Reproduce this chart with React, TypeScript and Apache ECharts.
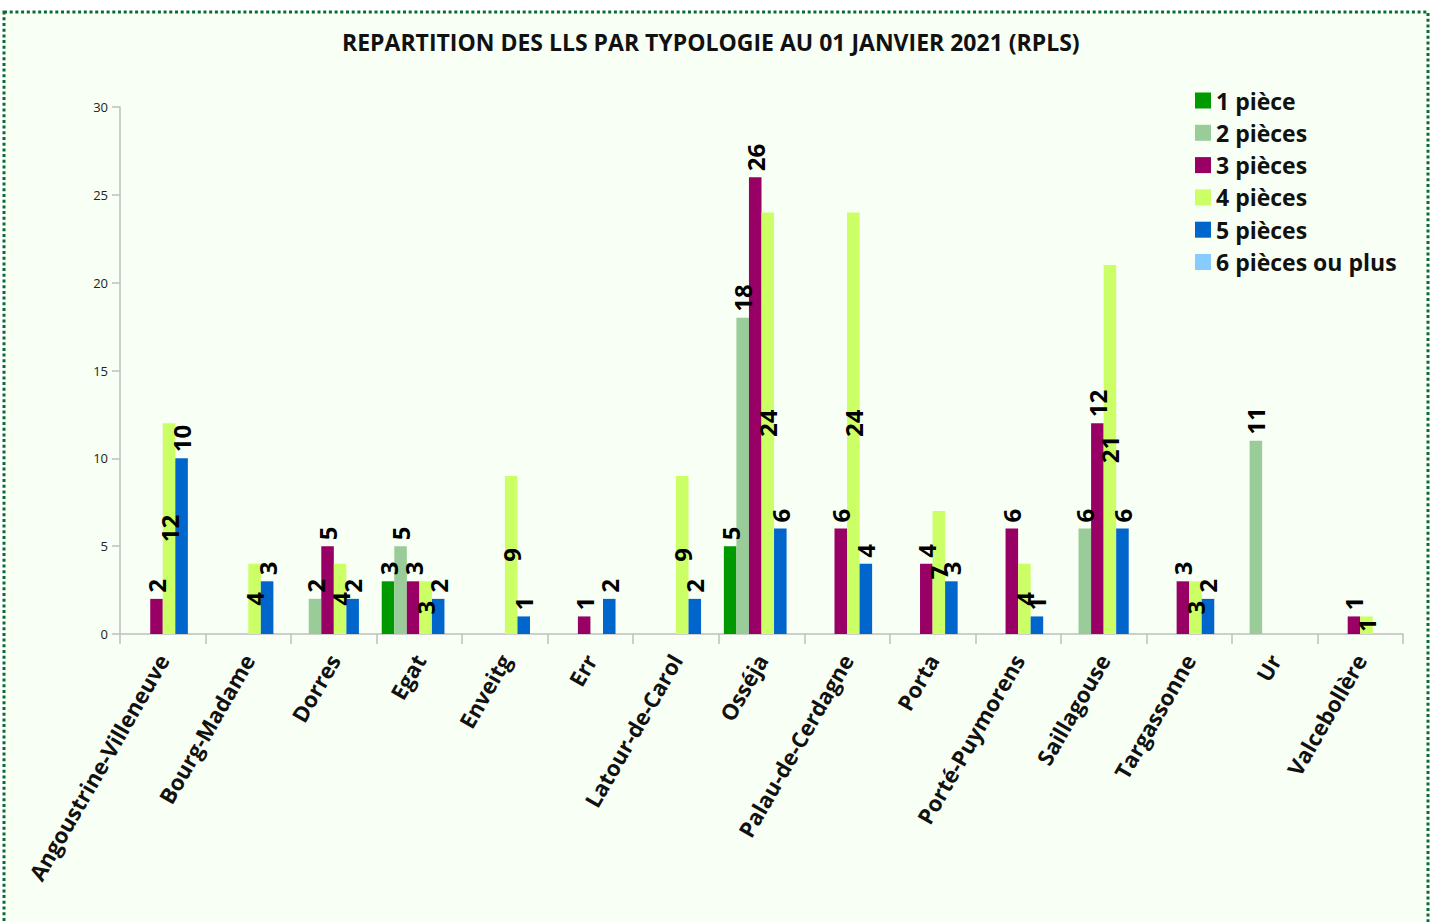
import React, { useEffect, useRef } from "react";
import * as echarts from "echarts";

const title = "REPARTITION DES LLS PAR TYPOLOGIE AU 01 JANVIER 2021 (RPLS)";

const categories = [
  "Angoustrine-Villeneuve",
  "Bourg-Madame",
  "Dorres",
  "Egat",
  "Enveitg",
  "Err",
  "Latour-de-Carol",
  "Osséja",
  "Palau-de-Cerdagne",
  "Porta",
  "Porté-Puymorens",
  "Saillagouse",
  "Targassonne",
  "Ur",
  "Valcebollère",
];

const seriesNames = ["1 pièce", "2 pièces", "3 pièces", "4 pièces", "5 pièces", "6 pièces ou plus"];
const seriesColors = ["#009900", "#99cc99", "#990066", "#ccff66", "#0066cc", "#88ccff"];

const piece1 = [null, null, null, 3, null, null, null, 5, null, null, null, null, null, null, null];
const piece2 = [null, null, 2, 5, null, null, null, 18, null, null, null, 6, null, 11, null];
const piece3 = [2, null, 5, 3, null, 1, null, 26, 6, 4, 6, 12, 3, null, 1];
const piece4 = [12, 4, 4, 3, 9, null, 9, 24, 24, 7, 4, 21, 3, null, 1];
const piece5 = [10, 3, 2, 2, 1, 2, 2, 6, 4, 3, 1, 6, 2, null, null];
const piece6 = [null, null, null, null, null, null, null, null, null, null, null, null, null, null, null];

const yTicks = { min: 0, max: 30, interval: 5 };

const FONT = "'Open Sans', 'DejaVu Sans', sans-serif";

export default function App() {
  const ref = useRef<HTMLDivElement>(null);
  useEffect(() => {
    if (!ref.current) return;
    const chart = echarts.init(ref.current, null, { renderer: "svg" });
    const allData = [piece1, piece2, piece3, piece4, piece5, piece6];
    const series = allData.map((d, i) => ({
      name: seriesNames[i],
      type: "bar",
      data: d,
      barGap: "0%",
      barCategoryGap: "12%",
      itemStyle: { color: seriesColors[i] },
      label: {
        show: true,
        position: i === 3 ? "inside" : "top",
        rotate: 90,
        align: i === 3 ? "center" : "left",
        verticalAlign: "middle",
        distance: 6,
        color: "#000",
        fontFamily: FONT,
        fontWeight: "bold",
        fontSize: 24,
      },
    }));
    chart.setOption({
      animation: false,
      backgroundColor: "#ffffff",
      graphic: [
        {
          type: "rect",
          z: -10,
          silent: true,
          shape: { x: 4, y: 12, width: 1424, height: 920 },
          style: { fill: "#f8fff4", stroke: "#0b6a36", lineWidth: 3, lineDash: [3, 2.7] },
        },
      ],
      title: {
        text: title,
        left: 337,
        top: 25,
        textStyle: { fontFamily: FONT, fontWeight: "bold", fontSize: 23, color: "#111" },
      },
      legend: {
        orient: "vertical",
        left: 1190,
        top: 84,
        icon: "rect",
        itemWidth: 16,
        itemHeight: 16,
        itemGap: 9.3,
        itemTextGap: 10,
        textStyle: { fontFamily: FONT, fontWeight: "bold", fontSize: 23, lineHeight: 20, color: "#111" },
        data: seriesNames,
      },
      grid: { left: 120, right: 34, top: 107, bottom: 288, containLabel: false },
      xAxis: {
        type: "category",
        data: categories,
        axisLine: { lineStyle: { color: "#bfbfbf", width: 1.5 } },
        axisTick: { show: true, length: 10, lineStyle: { color: "#bfbfbf", width: 1.5 } },
        axisLabel: {
          interval: 0,
          rotate: 60,
          margin: 22,
          color: "#111",
          fontFamily: FONT,
          fontWeight: "bold",
          fontSize: 22,
        },
      },
      yAxis: {
        type: "value",
        min: yTicks.min,
        max: yTicks.max,
        interval: yTicks.interval,
        splitLine: { show: false },
        axisLine: { show: true, lineStyle: { color: "#bfbfbf", width: 1.5 } },
        axisTick: { show: true, length: 8, lineStyle: { color: "#bfbfbf", width: 1.5 } },
        axisLabel: { color: "#222", fontFamily: FONT, fontSize: 13, margin: 12 },
      },
      series,
    });
    return () => chart.dispose();
  }, []);
  return (
    <div
      ref={ref}
      style={{ position: "absolute", left: 0, top: 0, width: 1437, height: 922 }}
    />
  );
}
